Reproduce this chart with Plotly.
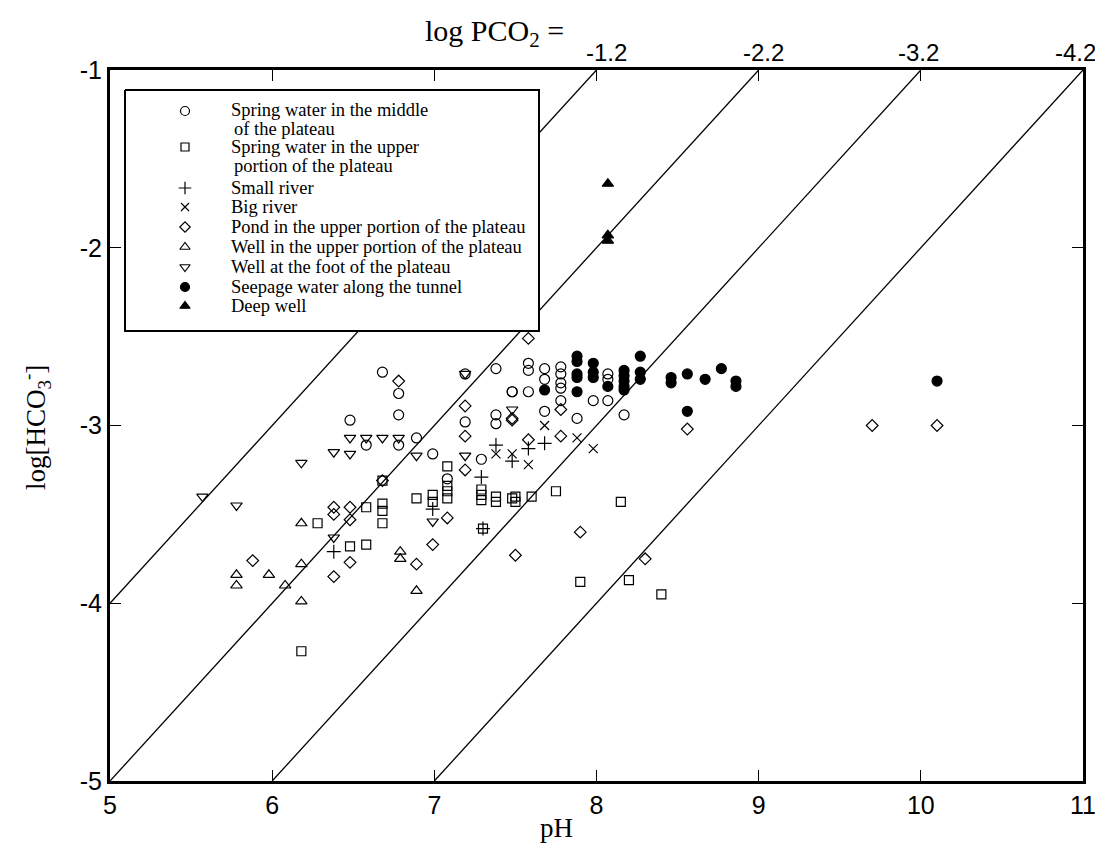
import plotly.graph_objects as go

# ---------------- data ----------------
spring_mid_ph = [6.68, 6.78, 6.78, 6.48, 6.58, 6.78, 6.89, 6.99, 7.19, 7.19, 7.38, 7.48, 7.38, 7.38,
                 7.29, 7.08, 7.58, 7.58, 7.68, 7.68, 7.78, 7.78, 7.78, 7.78, 7.48, 7.58, 7.98, 8.07,
                 8.07, 8.07, 8.17, 7.68, 7.78, 7.88]
spring_mid_hco3 = [-2.70, -2.82, -2.94, -2.97, -3.11, -3.11, -3.07, -3.16, -2.71, -2.98, -2.68, -2.81,
                   -2.94, -2.99, -3.19, -3.30, -2.65, -2.69, -2.68, -2.74, -2.67, -2.71, -2.76, -2.79,
                   -2.81, -2.81, -2.86, -2.86, -2.71, -2.74, -2.94, -2.92, -2.86, -2.96]

spring_up_ph = [6.68, 7.08, 7.08, 7.08, 7.08, 6.89, 6.99, 6.99, 7.29, 7.29, 7.29, 7.38, 7.38, 7.48,
                6.68, 6.68, 6.58, 6.28, 6.68, 6.48, 6.58, 6.18, 7.30, 7.50, 7.50, 7.60, 7.75, 8.15,
                7.90, 8.20, 8.40]
spring_up_hco3 = [-3.31, -3.23, -3.34, -3.37, -3.41, -3.41, -3.39, -3.43, -3.36, -3.39, -3.42, -3.40,
                  -3.43, -3.41, -3.44, -3.48, -3.46, -3.55, -3.55, -3.68, -3.67, -4.27, -3.58, -3.40,
                  -3.43, -3.40, -3.37, -3.43, -3.88, -3.87, -3.95]

small_river_ph = [7.38, 7.48, 7.29, 6.99, 6.38, 7.58, 7.68, 7.30]
small_river_hco3 = [-3.11, -3.20, -3.29, -3.47, -3.71, -3.13, -3.10, -3.58]

big_river_ph = [7.38, 7.48, 7.58, 7.68, 7.88, 7.98]
big_river_hco3 = [-3.16, -3.16, -3.22, -3.00, -3.07, -3.13]

pond_ph = [6.78, 7.19, 7.19, 7.19, 7.48, 6.68, 6.38, 6.38, 6.48, 6.48, 7.08, 6.99, 6.89, 5.88,
           6.48, 6.38, 7.58, 7.78, 8.56, 7.48, 7.58, 7.78, 9.70, 10.10, 7.90, 8.30, 7.50]
pond_hco3 = [-2.75, -2.89, -3.06, -3.25, -2.96, -3.31, -3.46, -3.50, -3.46, -3.53, -3.52, -3.67,
             -3.78, -3.76, -3.77, -3.85, -2.51, -2.91, -3.02, -2.97, -3.08, -3.06, -3.00, -3.00,
             -3.60, -3.75, -3.73]

well_up_ph = [6.18, 6.79, 6.79, 6.89, 5.78, 5.78, 5.98, 6.08, 6.18, 6.18]
well_up_hco3 = [-3.55, -3.71, -3.75, -3.93, -3.84, -3.90, -3.84, -3.90, -3.78, -3.99]

well_foot_ph = [6.48, 6.58, 6.68, 6.78, 6.38, 6.48, 6.89, 6.18, 7.19, 7.19, 7.48, 5.78, 5.57, 6.38, 6.99]
well_foot_hco3 = [-3.07, -3.07, -3.07, -3.07, -3.15, -3.16, -3.17, -3.21, -2.71, -3.17, -2.91, -3.45,
                  -3.40, -3.63, -3.54]

seepage_ph = [7.88, 7.88, 7.88, 7.88, 7.88, 7.68, 7.98, 7.98, 7.98, 8.07, 8.17, 8.17, 8.17, 8.17, 8.17,
              8.27, 8.27, 8.27, 8.46, 8.46, 8.56, 8.67, 8.77, 8.86, 8.86, 8.56, 10.10]
seepage_hco3 = [-2.61, -2.64, -2.71, -2.73, -2.81, -2.80, -2.65, -2.70, -2.73, -2.78, -2.69, -2.72,
                -2.75, -2.78, -2.80, -2.61, -2.70, -2.74, -2.73, -2.76, -2.71, -2.74, -2.68, -2.75,
                -2.78, -2.92, -2.75]

deep_ph = [8.07, 8.07, 8.07]
deep_hco3 = [-1.64, -1.93, -1.96]

# log PCO2 reference lines: end points
pco2_labels = ["-1.2", "-2.2", "-3.2", "-4.2"]
pco2_line_ph = [[5, 8], [5, 9], [6, 10], [7, 11]]
pco2_line_hco3 = [[-4, -1], [-5, -1], [-5, -1], [-5, -1]]

x_ticks = [5, 6, 7, 8, 9, 10, 11]
y_ticks = [-5, -4, -3, -2, -1]

legend_lines = [["Spring water in the middle", " of the plateau"],
                ["Spring water in the upper", " portion of the plateau"],
                ["Small river"], ["Big river"],
                ["Pond in the upper portion of the plateau"],
                ["Well in the upper portion of the plateau"],
                ["Well at the foot of the plateau"],
                ["Seepage water along the tunnel"],
                ["Deep well"]]

# ---------------- figure ----------------
SERIF = "Liberation Serif, Times New Roman, serif"
SANS = "Liberation Sans, Arial, Helvetica, sans-serif"

# plot area in px: x 102..1075, y 62..773
L, R, T, B = 102, 1075, 62, 773


def px_x(v):
    return (v - L) / float(R - L)


def px_y(v):
    return (B - v) / float(B - T)


fig = go.Figure()

for xs, ys in zip(pco2_line_ph, pco2_line_hco3):
    fig.add_trace(go.Scatter(x=xs, y=ys, mode="lines", line=dict(color="black", width=1.3),
                             showlegend=False, hoverinfo="skip"))

series = [
    (spring_mid_ph, spring_mid_hco3, "circle-open", 10),
    (spring_up_ph, spring_up_hco3, "square-open", 9),
    (small_river_ph, small_river_hco3, "cross-thin-open", 10),
    (big_river_ph, big_river_hco3, "x-thin-open", 9),
    (pond_ph, pond_hco3, "diamond-open", 9),
    (well_up_ph, well_up_hco3, "triangle-up-open", 10),
    (well_foot_ph, well_foot_hco3, "triangle-down-open", 10),
    (seepage_ph, seepage_hco3, "circle", 10),
    (deep_ph, deep_hco3, "triangle-up", 10),
]
for (xs, ys, sym, sz), lines in zip(series, legend_lines):
    fig.add_trace(go.Scatter(x=xs, y=ys, mode="markers", name="".join(lines),
                             marker=dict(symbol=sym, size=sz, color="black",
                                         line=dict(color="black", width=1.2)),
                             showlegend=False))

# ---- hand-built legend on an overlay axis (0..1 = plot area) ----
box_x = [px_x(117), px_x(531), px_x(531), px_x(117), px_x(117)]
box_y = [px_y(82), px_y(82), px_y(323), px_y(323), px_y(82)]
fig.add_trace(go.Scatter(x=box_x, y=box_y, xaxis="x2", yaxis="y2", mode="lines", fill="toself",
                         fillcolor="white", line=dict(color="black", width=2),
                         showlegend=False, hoverinfo="skip"))

sym_rows = [103, 139, 180, 199, 219, 239, 259, 279, 298]
text_rows = [[102, 121], [139, 158], [180], [199], [219], [239], [259], [279], [298]]
for (xs, ys, sym, sz), lines, ry, trows in zip(series, legend_lines, sym_rows, text_rows):
    fig.add_trace(go.Scatter(x=[px_x(177)], y=[px_y(ry)], xaxis="x2", yaxis="y2", mode="markers",
                             marker=dict(symbol=sym, size=sz - 1, color="black",
                                         line=dict(color="black", width=1.2)),
                             showlegend=False, hoverinfo="skip"))
    for k, (txt, ty) in enumerate(zip(lines, trows)):
        fig.add_annotation(x=px_x(221 + (3 if k else 0)), y=px_y(ty), xref="paper", yref="paper",
                           text=txt.strip(), showarrow=False, xanchor="left", yanchor="middle",
                           align="left", font=dict(family=SERIF, size=18.5, color="black"))

# ---- top labels ----
fig.add_annotation(x=px_x(415), y=px_y(25), xref="paper", yref="paper",
                   text="log PCO<sub>2</sub> =", showarrow=False, xanchor="left", yanchor="middle",
                   font=dict(family=SERIF, size=30, color="black"))
label_px = [598, 755, 910, 1067]
for lab, lx in zip(pco2_labels, label_px):
    fig.add_annotation(x=px_x(lx), y=px_y(44), xref="paper", yref="paper", text=lab,
                       showarrow=False, xanchor="center", yanchor="middle",
                       font=dict(family=SANS, size=24, color="black"))

# ---- axis titles ----
fig.add_annotation(x=px_x(548), y=px_y(820), xref="paper", yref="paper", text="pH",
                   showarrow=False, xanchor="center", yanchor="middle",
                   font=dict(family=SERIF, size=27, color="black"))
fig.add_annotation(x=px_x(28), y=px_y(420), xref="paper", yref="paper",
                   text="log[HCO<sub>3</sub><sup>-</sup>]", textangle=-90,
                   showarrow=False, xanchor="center", yanchor="middle",
                   font=dict(family=SERIF, size=27, color="black"))

fig.update_layout(
    width=1103, height=848,
    margin=dict(l=L, r=1103 - R, t=T, b=848 - B),
    paper_bgcolor="white", plot_bgcolor="white",
    showlegend=False,
    xaxis=dict(range=[5, 11], tickvals=x_ticks, ticktext=[str(v) for v in x_ticks],
               ticks="inside", ticklen=11,
               tickwidth=1.2, tickcolor="black", mirror="ticks", showline=True, linewidth=3,
               linecolor="black", showgrid=False, zeroline=False,
               tickfont=dict(family=SANS, size=25, color="black")),
    yaxis=dict(range=[-5, -1], tickvals=y_ticks, ticktext=[str(v) for v in y_ticks],
               ticks="inside", ticklen=11,
               tickwidth=1.2, tickcolor="black", mirror="ticks", showline=True, linewidth=3,
               linecolor="black", showgrid=False, zeroline=False,
               tickfont=dict(family=SANS, size=25, color="black")),
    xaxis2=dict(overlaying="x", range=[0, 1], visible=False, anchor="y2"),
    yaxis2=dict(overlaying="y", range=[0, 1], visible=False, anchor="x2"),
)

fig.write_html("out.html")
